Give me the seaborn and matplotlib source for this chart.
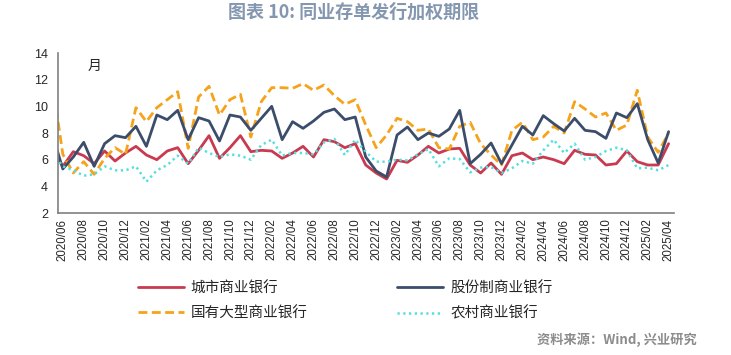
import numpy as np
import pandas as pd
import matplotlib
matplotlib.use("Agg")
import matplotlib.pyplot as plt
import seaborn as sns

# 月份：2020/05（左侧被坐标轴截断）到 2025/04
months = pd.period_range("2020-05", "2025-04", freq="M").strftime("%Y/%m").tolist()

city = [6.7, 5.5, 6.6, 6.3, 5.7, 6.65, 5.9, 6.5, 7.0, 6.35, 6.0, 6.65, 6.9,
        5.7, 6.7, 7.8, 6.1, 6.9, 7.8, 6.6, 6.7, 6.65, 6.1, 6.5, 7.0, 6.2,
        7.5, 7.35, 6.9, 7.2, 5.6, 5.0, 4.55, 5.95, 5.8, 6.35, 7.0, 6.5, 6.8,
        6.85, 5.6, 5.0, 5.75, 4.9, 6.3, 6.5, 6.0, 6.2, 6.0, 5.7, 6.7, 6.4,
        6.35, 5.6, 5.7, 6.65, 5.85, 5.6, 5.6, 7.2]
joint = [7.9, 5.3, 6.2, 7.3, 5.5, 7.2, 7.8, 7.65, 8.5, 7.0, 9.35, 9.0, 9.7,
         7.5, 9.15, 8.9, 7.4, 9.35, 9.2, 8.2, 9.1, 10.0, 7.5, 8.85, 8.35,
         8.9, 9.55, 9.8, 9.0, 9.2, 6.2, 5.15, 4.7, 7.85, 8.45, 7.5, 8.0,
         7.75, 8.3, 9.7, 5.7, 6.4, 7.25, 5.7, 7.1, 8.5, 7.85, 9.3, 8.7,
         8.15, 9.1, 8.2, 8.1, 7.6, 9.5, 9.15, 10.2, 7.5, 5.75, 8.1]
big = [11.8, 6.4, 5.0, 5.85, 4.9, 6.1, 6.9, 6.4, 9.9, 8.85, 9.9, 10.5, 11.1,
       6.85, 10.7, 11.5, 9.35, 10.5, 10.9, 7.7, 10.35, 11.4, 11.4, 11.35,
       11.7, 11.2, 11.6, 10.8, 10.15, 10.5, 8.6, 6.9, 7.85, 9.1, 8.85, 8.2,
       8.3, 6.9, 6.8, 8.5, 8.8, 7.2, 6.35, 5.6, 8.2, 8.8, 7.5, 7.7, 8.5,
       8.0, 10.35, 9.8, 9.2, 9.5, 8.2, 8.6, 11.2, 7.7, 6.55, 8.0]
rural = [6.5, 5.5, 5.2, 4.8, 4.9, 5.5, 5.2, 5.2, 5.5, 4.35, 5.2, 5.6, 6.3,
         5.7, 6.9, 6.5, 6.2, 6.4, 6.3, 6.0, 7.1, 7.5, 6.3, 6.5, 6.5, 6.4,
         7.3, 7.55, 6.35, 7.5, 6.6, 5.85, 5.85, 6.0, 5.95, 6.4, 6.8, 5.5,
         6.1, 6.05, 5.05, 5.4, 5.45, 5.0, 5.35, 5.9, 5.7, 6.7, 7.5, 6.5,
         7.2, 6.0, 6.2, 6.65, 6.9, 6.7, 5.35, 5.4, 5.2, 5.6]

names = ["城市商业银行", "国有大型商业银行", "股份制商业银行", "农村商业银行"]
series = [city, big, joint, rural]
colors = ["#c9394f", "#f5a31a", "#3c4d6b", "#55dede"]
styles = ["-", (0, (3.2, 1.6)), "-", (0, (0.9, 1.4))]
widths = [2.0, 2.0, 2.0, 1.8]

sns.set_style("white")
plt.rcParams["font.family"] = ["Noto Sans CJK SC", "DejaVu Sans"]

fig = plt.figure(figsize=(7.31, 3.55), dpi=100)
ax = fig.add_axes([0.0788, 0.4, 0.843, 0.4507])

x = np.arange(len(months)) - 1  # 2020/06 -> 0
for name, vals, c, ls, lw in zip(names, series, colors, styles, widths):
    sns.lineplot(x=x, y=vals, ax=ax, color=c, linestyle=ls, linewidth=lw, label=name)

ax.set_xlim(-0.5, 58.5)
ax.set_ylim(2, 14)
ax.set_yticks(range(2, 15, 2))
ax.set_yticklabels([str(v) for v in range(2, 15, 2)], fontsize=9, family="Liberation Sans")

# 刻度线在类别边界，标签在类别中心
ax.set_xticks(np.arange(-0.5, 58, 2))
ax.set_xticklabels([])
ax.set_xticks(np.arange(0, 59, 2), minor=True)
ax.set_xticklabels(months[1::2], minor=True, rotation=90, fontsize=8.3,
                   family="Liberation Sans")
ax.tick_params(axis="x", which="major", direction="out", length=4, color="#808080", width=1)
ax.tick_params(axis="x", which="minor", length=0, pad=4)
ax.tick_params(axis="y", direction="out", length=4, color="#808080", width=1, pad=3)

for s in ["top", "right"]:
    ax.spines[s].set_visible(False)
for s in ["left", "bottom"]:
    ax.spines[s].set_color("#808080")
    ax.spines[s].set_linewidth(1.2)

ax.text(0.049, 0.965, "月", transform=ax.transAxes, fontsize=10, va="top")

ax.get_legend().remove()
h, l = ax.get_legend_handles_labels()
fig.legend(h, l, loc="center", bbox_to_anchor=(0.472, 0.152), ncol=2, frameon=False,
           fontsize=10.5, handlelength=3.2, handletextpad=0.45, columnspacing=6.1,
           labelspacing=0.75)

fig.text(0.484, 0.965, "图表 10: 同业存单发行加权期限", ha="center", va="center",
         fontsize=13, fontweight="bold", color="#8497b0")
fig.text(0.953, 0.042, "资料来源：Wind, 兴业研究", ha="right", va="center",
         fontsize=9.5, fontweight="bold", color="#8c8c8c")

fig.savefig("out.png", dpi=100)
